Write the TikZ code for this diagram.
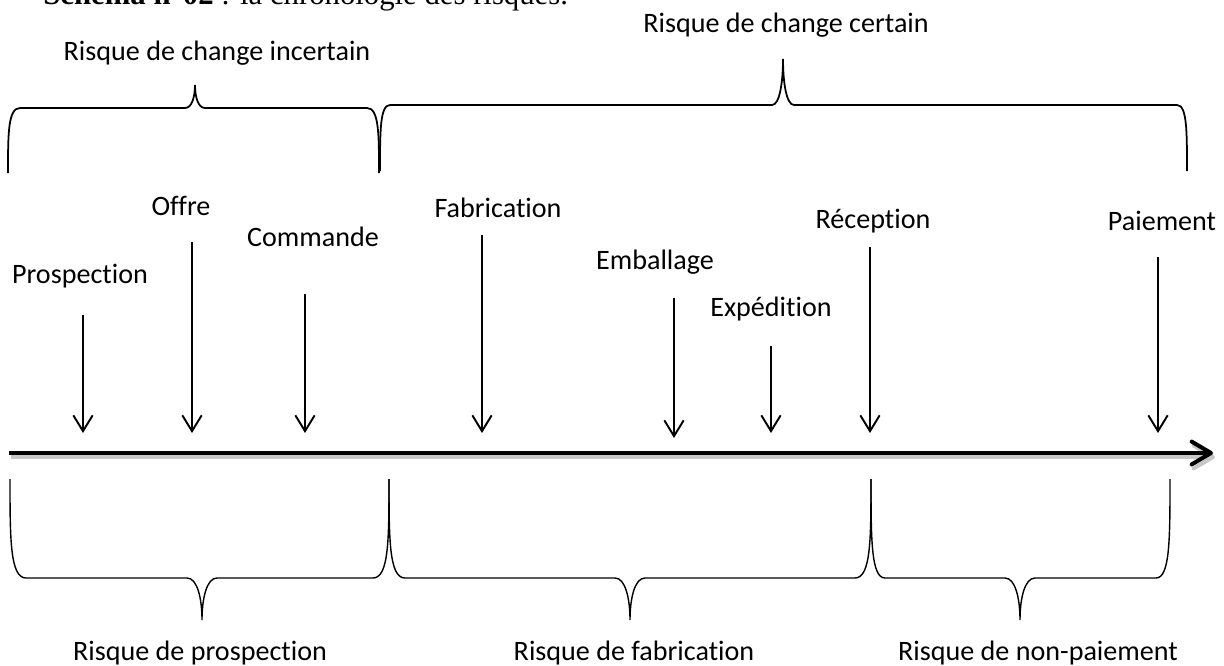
\documentclass[tikz,border=0pt]{standalone}
\usepackage{fontspec}
\setmainfont{Carlito}[Ligatures={NoCommon}]
\newfontfamily\titlefont{Liberation Serif}
\usetikzlibrary{arrows.meta}

% brace: style, x left, x right, y ends, x tip, y line, y tip, corner, tip half width
\newcommand{\riskbrace}[9]{%
  \draw[#1] (#2,#4) .. controls (#2,{#4+0.6*(#6-#4)}) and (#2,#6) .. ({#2+#8},#6)
    -- ({#5-#9},#6) .. controls ({#5-0.3*#9},#6) and (#5,{#6+0.5*(#7-#6)}) .. (#5,#7)
    .. controls (#5,{#6+0.5*(#7-#6)}) and ({#5+0.3*#9},#6) .. ({#5+#9},#6)
    -- ({#3-#8},#6) .. controls (#3,#6) and (#3,{#4+0.6*(#6-#4)}) .. (#3,#4);}

\begin{document}
\begin{tikzpicture}[x=0.02cm, y=-0.02cm,
    lbl/.style={anchor=base, inner sep=0pt, font=\fontsize{16}{19}\selectfont},
    evt/.style={line width=1.1pt, -{Straight Barb[length=9pt, width=11pt]}},
    axis/.style={line width=2.3pt, -{Straight Barb[length=11pt, width=13pt, round]}},
    topbrace/.style={line width=1pt},
    lowbrace/.style={line width=0.8pt}]
  \useasboundingbox (0,0) rectangle (1224,666);

  % title, cut by the page edge
  \node[anchor=base west, inner sep=0pt, font=\titlefont\fontsize{17.5}{21}\selectfont] (titre) at (43,5)
    {\textbf{Schéma n°02} : la chronologie des risques.};

  % risque de change
  \node[lbl] (incert) at (217,60) {Risque de change incertain};
  \node[lbl] (cert) at (786,32) {Risque de change certain};
  \riskbrace{topbrace}{8}{379}{173}{195}{108}{85}{12}{10}
  \riskbrace{topbrace}{380}{1187}{171}{783}{105}{59}{10}{11}

  % timeline
  \coordinate (t0) at (9,453);
  \coordinate (t1) at (1213,453);
  \draw[axis, black!22] ([shift={(2,4)}]t0) -- ([shift={(2,4)}]t1);
  \draw[axis] (t0) -- (t1);

  % events
  \node[lbl] (prosp) at (80,283) {Prospection};
  \node[lbl] (offre) at (181,215) {Offre};
  \node[lbl] (cmd) at (313,246) {Commande};
  \node[lbl] (fab) at (498,217) {Fabrication};
  \node[lbl] (emb) at (655,269) {Emballage};
  \node[lbl] (exped) at (771,316) {Expédition};
  \node[lbl] (recep) at (873,228) {Réception};
  \node[lbl] (paie) at (1162,230) {Paiement};

  \coordinate (prospT) at (83,315);   \coordinate (prospB) at (83,433);
  \coordinate (offreT) at (192,242);  \coordinate (offreB) at (192,433);
  \coordinate (cmdT) at (305,294);    \coordinate (cmdB) at (305,433);
  \coordinate (fabT) at (482,235);    \coordinate (fabB) at (482,433);
  \coordinate (embT) at (674,298);    \coordinate (embB) at (674,438);
  \coordinate (expedT) at (771,346);  \coordinate (expedB) at (771,433);
  \coordinate (recepT) at (870,247);  \coordinate (recepB) at (870,433);
  \coordinate (paieT) at (1158,257);  \coordinate (paieB) at (1158,433);
  \draw[evt] (prospT) -- (prospB);
  \draw[evt] (offreT) -- (offreB);
  \draw[evt] (cmdT) -- (cmdB);
  \draw[evt] (fabT) -- (fabB);
  \draw[evt] (embT) -- (embB);
  \draw[evt] (expedT) -- (expedB);
  \draw[evt] (recepT) -- (recepB);
  \draw[evt] (paieT) -- (paieB);

  % risques par phase
  \riskbrace{lowbrace}{10}{389}{479}{202}{578}{620}{16}{15}
  \riskbrace{lowbrace}{389}{871}{479}{630}{578}{620}{16}{15}
  \riskbrace{lowbrace}{871}{1170}{479}{1020}{578}{620}{14}{15}
  \node[lbl] (rprosp) at (200,660) {Risque de prospection};
  \node[lbl] (rfab) at (634,660) {Risque de fabrication};
  \node[lbl] (rpaie) at (1038,660) {Risque de non-paiement};
\end{tikzpicture}
\end{document}
